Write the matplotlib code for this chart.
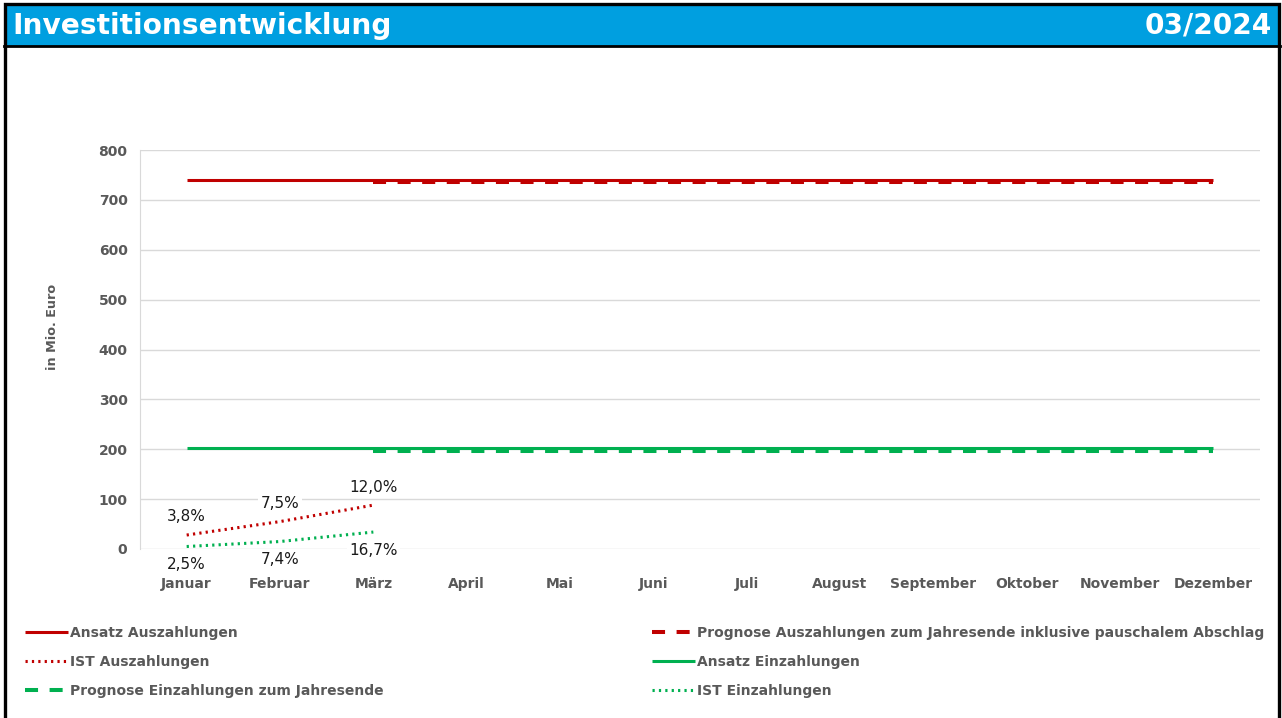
import matplotlib
matplotlib.use("Agg")
import matplotlib.pyplot as plt
from matplotlib.lines import Line2D
from matplotlib.patches import Rectangle

plt.rcParams['font.family'] = ['DejaVu Sans']
plt.rcParams['lines.scale_dashes'] = False

# ---- data ----
months = ["Januar", "Februar", "März", "April", "Mai", "Juni", "Juli",
          "August", "September", "Oktober", "November", "Dezember"]
ansatz_aus = [740] * 12
prognose_aus = [None, None] + [736] * 10
ist_aus = [28, 55, 88]
ist_aus_pct = [3.8, 7.5, 12.0]
ansatz_ein = [203] * 12
prognose_ein = [None, None] + [197] * 10
ist_ein = [5, 15, 34]
ist_ein_pct = [2.5, 7.4, 16.7]
yticks = [0, 100, 200, 300, 400, 500, 600, 700, 800]

title = "Investitionsentwicklung"
period = "03/2024"
ylabel = "in Mio. Euro"
labels = ["Ansatz Auszahlungen",
          "Prognose Auszahlungen zum Jahresende inklusive pauschalem Abschlag",
          "IST Auszahlungen",
          "Ansatz Einzahlungen",
          "Prognose Einzahlungen zum Jahresende",
          "IST Einzahlungen"]

RED = "#C00000"
GREEN = "#00B050"
GREY = "#595959"
BLUE = "#009FE0"

W, H = 1282, 718
fig = plt.figure(figsize=(W / 100, H / 100), dpi=100)


def fx(px):
    return px / W


def fy(py):
    return 1 - py / H


# header & border
fig.add_artist(Rectangle((fx(5), fy(46)), fx(1274), 40 / H, transform=fig.transFigure,
                         facecolor=BLUE, edgecolor="none", zorder=0))
fig.add_artist(Line2D([fx(4), fx(1280)], [fy(46), fy(46)], transform=fig.transFigure,
                      color="black", lw=2))
fig.add_artist(Rectangle((fx(5), fy(730)), fx(1274), 726 / H, transform=fig.transFigure,
                         facecolor="none", edgecolor="black", lw=2.4, zorder=5))
fig.text(fx(12), fy(26), title, color="white", fontsize=20.2, fontweight="bold",
         ha="left", va="center")
fig.text(fx(1272), fy(26), period, color="white", fontsize=20.2, fontweight="bold",
         ha="right", va="center")

ax = fig.add_axes([fx(140), fy(549), fx(1260) - fx(140), (549 - 150) / H])
x = list(range(len(months)))

def seg(vals):
    xs = [i for i, v in enumerate(vals) if v is not None]
    ys = [v for v in vals if v is not None]
    return xs, ys

dash_style = dict(dashes=(9.4, 8.3), dash_capstyle="butt")
dot_style = dict(dashes=(1.6, 3.0), dash_capstyle="butt")

xs, ys = seg(prognose_aus)
ax.plot(xs, ys, color=RED, lw=2.9, zorder=3, **dash_style)
ax.plot(x, ansatz_aus, color=RED, lw=2.2, zorder=4, solid_capstyle="butt")
xs, ys = seg(prognose_ein)
ax.plot(xs, ys, color=GREEN, lw=2.9, zorder=3, **dash_style)
ax.plot(x, ansatz_ein, color=GREEN, lw=2.2, zorder=4, solid_capstyle="butt")
ax.plot(x[:len(ist_aus)], ist_aus, color=RED, lw=2.2, zorder=4, **dot_style)
ax.plot(x[:len(ist_ein)], ist_ein, color=GREEN, lw=2.2, zorder=4, **dot_style)

bbox = dict(facecolor="white", edgecolor="none", pad=1.5)
for i, (v, p) in enumerate(zip(ist_aus, ist_aus_pct)):
    ax.annotate(f"{p:.1f}%".replace(".", ","), (i, v), xytext=(0, 13),
                textcoords="offset points", ha="center", va="center",
                fontsize=11, color="#1a1a1a", bbox=bbox, zorder=6)
for i, (v, p) in enumerate(zip(ist_ein, ist_ein_pct)):
    ax.annotate(f"{p:.1f}%".replace(".", ","), (i, v), xytext=(0, -13),
                textcoords="offset points", ha="center", va="center",
                fontsize=11, color="#1a1a1a", bbox=bbox, zorder=6)

ax.set_xlim(-0.5, len(months) - 0.5)
ax.set_ylim(0, 800)
ax.set_yticks(yticks)
ax.set_xticks(x)
ax.set_xticklabels(months)
ax.yaxis.grid(True, color="#D9D9D9", lw=1)
ax.set_axisbelow(True)
for s in ["top", "right", "bottom"]:
    ax.spines[s].set_visible(False)
ax.spines["left"].set_color("#D9D9D9")
ax.tick_params(length=0, labelsize=10, labelcolor=GREY)
ax.tick_params(axis="y", pad=9)
ax.tick_params(axis="x", pad=20)
for lab in ax.get_xticklabels() + ax.get_yticklabels():
    lab.set_fontweight("bold")
fig.text(fx(52), fy(327), ylabel, rotation=90, ha="center", va="center",
         fontsize=9.2, fontweight="bold", color=GREY)

# legend
h_aa = Line2D([], [], color=RED, lw=2.2, solid_capstyle="butt")
h_pa = Line2D([], [], color=RED, lw=2.9, **dash_style)
h_ia = Line2D([], [], color=RED, lw=2.2, **dot_style)
h_ae = Line2D([], [], color=GREEN, lw=2.2, solid_capstyle="butt")
h_pe = Line2D([], [], color=GREEN, lw=2.9, **dash_style)
h_ie = Line2D([], [], color=GREEN, lw=2.2, **dot_style)

common = dict(frameon=False, loc="upper left", borderpad=0, borderaxespad=0,
              handlelength=3.1, handletextpad=0.15, labelspacing=1.08,
              prop=dict(size=10, weight="bold"), labelcolor=GREY)
leg1 = fig.legend([h_aa, h_ia, h_pe], [labels[0], labels[2], labels[4]],
                  bbox_to_anchor=(fx(25), fy(626)), **common)
leg2 = fig.legend([h_pa, h_ae, h_ie], [labels[1], labels[3], labels[5]],
                  bbox_to_anchor=(fx(652), fy(626)), **common)

fig.savefig("out.png", dpi=100, facecolor="white")
